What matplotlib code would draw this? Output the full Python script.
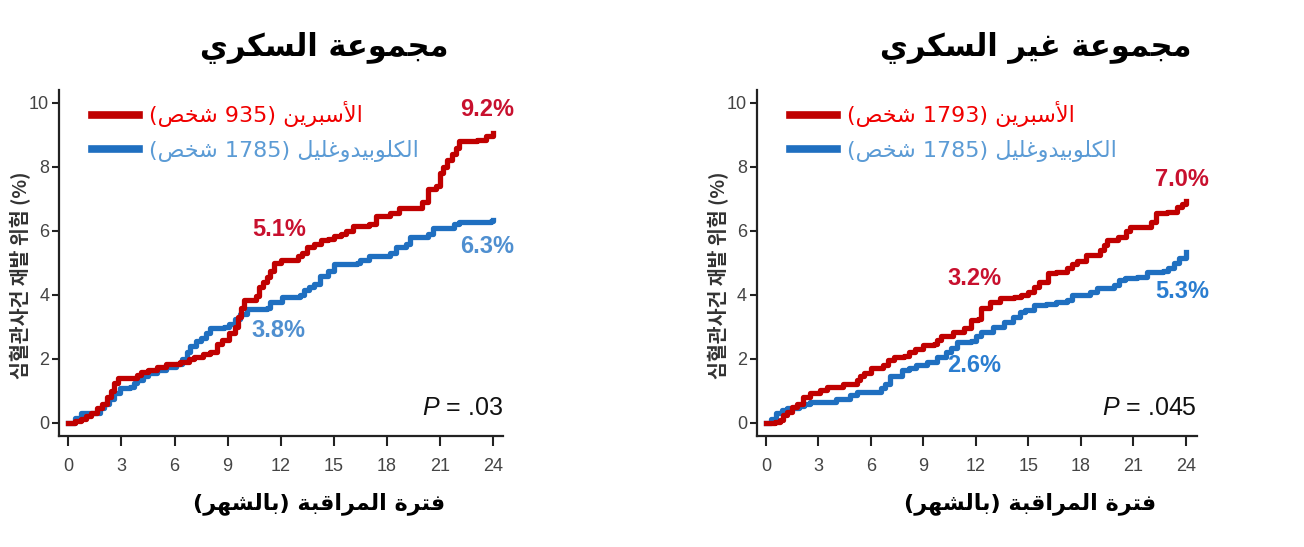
import re
import matplotlib
matplotlib.use('Agg')
import matplotlib.pyplot as plt
from matplotlib.lines import Line2D

# ---- data (months, cumulative %) ----
months_ticks = [0, 3, 6, 9, 12, 15, 18, 21, 24]
risk_ticks = [0, 2, 4, 6, 8, 10]

dm_asp_t = [0.0, 0.4, 0.7, 1.0, 1.3, 1.6, 1.9, 2.2, 2.4, 2.6, 2.8, 3.9, 4.1, 4.5, 5.0, 5.5, 6.3, 6.8,
            7.1, 7.6, 8.0, 8.4, 8.7, 9.1, 9.4, 9.6, 9.75, 9.9, 10.6, 10.8, 11.0, 11.2, 11.4, 11.6,
            12.0, 13.0, 13.2, 13.5, 13.9, 14.3, 14.7, 15.0, 15.4, 15.7, 16.1, 17.0, 17.4, 18.2,
            18.7, 19.7, 20.0, 20.3, 20.8, 21.0, 21.2, 21.4, 21.7, 21.9, 22.1, 23.1, 23.6, 24.0]
dm_asp_v = [0.0, 0.05, 0.12, 0.2, 0.3, 0.45, 0.6, 0.8, 1.0, 1.25, 1.4, 1.5, 1.6, 1.65, 1.75, 1.85,
            1.9, 2.0, 2.05, 2.15, 2.2, 2.45, 2.6, 2.8, 3.0, 3.3, 3.6, 3.85, 3.95, 4.25, 4.4, 4.55,
            4.75, 5.0, 5.1, 5.2, 5.3, 5.5, 5.6, 5.7, 5.75, 5.85, 5.9, 6.0, 6.15, 6.2, 6.45, 6.55,
            6.7, 6.7, 6.9, 7.3, 7.4, 7.8, 8.0, 8.2, 8.4, 8.6, 8.8, 8.85, 8.95, 9.05]

dm_clo_t = [0.0, 0.35, 0.7, 1.6, 1.8, 2.0, 2.3, 2.6, 2.9, 3.5, 3.7, 3.9, 4.2, 4.5, 5.0, 5.5, 6.1,
            6.4, 6.7, 6.9, 7.2, 7.5, 7.8, 8.0, 8.8, 9.1, 9.4, 9.7, 10.1, 11.2, 11.4, 12.1, 13.1,
            13.3, 13.6, 13.9, 14.2, 14.7, 15.0, 16.3, 16.5, 17.0, 18.2, 18.5, 19.1, 19.3, 20.3,
            20.6, 21.8, 22.1, 23.9, 24.0]
dm_clo_v = [0.0, 0.15, 0.3, 0.32, 0.45, 0.6, 0.75, 0.92, 1.1, 1.12, 1.25, 1.35, 1.45, 1.55, 1.65,
            1.75, 1.85, 2.0, 2.2, 2.4, 2.55, 2.65, 2.8, 2.95, 3.0, 3.1, 3.25, 3.4, 3.57, 3.6, 3.78,
            3.92, 4.0, 4.15, 4.25, 4.35, 4.6, 4.75, 4.97, 5.0, 5.08, 5.2, 5.3, 5.5, 5.6, 5.8, 5.9,
            6.1, 6.22, 6.28, 6.3, 6.33]

nodm_asp_t = [0.0, 0.5, 0.8, 1.0, 1.2, 1.5, 1.8, 2.1, 2.5, 3.1, 3.5, 4.0, 4.4, 5.2, 5.4, 5.6, 6.0,
              6.7, 7.0, 7.3, 7.9, 8.2, 8.5, 9.0, 9.6, 9.8, 10.0, 10.7, 11.3, 11.7, 12.1, 12.3, 12.8,
              13.4, 14.2, 14.6, 15.0, 15.3, 15.6, 16.1, 16.6, 17.2, 17.5, 17.8, 18.3, 19.1, 19.3,
              19.5, 20.1, 20.6, 20.8, 21.6, 22.0, 22.3, 22.9, 23.5, 23.8, 24.0]
nodm_asp_v = [0.0, 0.03, 0.1, 0.25, 0.35, 0.5, 0.6, 0.8, 0.92, 1.02, 1.12, 1.13, 1.22, 1.33, 1.45,
              1.55, 1.7, 1.8, 1.95, 2.05, 2.1, 2.2, 2.32, 2.43, 2.48, 2.6, 2.7, 2.84, 2.95, 3.2,
              3.25, 3.6, 3.78, 3.9, 3.92, 4.0, 4.1, 4.25, 4.4, 4.67, 4.72, 4.83, 4.95, 5.05, 5.24,
              5.4, 5.55, 5.7, 5.8, 6.0, 6.12, 6.13, 6.28, 6.55, 6.6, 6.75, 6.85, 6.92]

nodm_clo_t = [0.0, 0.3, 0.6, 0.9, 1.2, 1.9, 2.2, 2.5, 3.5, 4.0, 4.8, 5.2, 6.3, 6.6, 6.8, 7.1, 7.8,
              8.2, 8.6, 9.2, 9.8, 10.3, 10.6, 10.9, 11.7, 12.0, 12.3, 13.0, 13.6, 14.1, 14.5, 14.8,
              15.3, 16.0, 16.6, 17.2, 17.5, 18.5, 18.9, 19.9, 20.2, 20.5, 21.2, 21.8, 22.7, 23.0,
              23.3, 23.6, 24.0]
nodm_clo_v = [0.0, 0.12, 0.3, 0.4, 0.47, 0.52, 0.6, 0.66, 0.66, 0.76, 0.86, 0.97, 0.98, 1.1, 1.2,
              1.45, 1.65, 1.72, 1.8, 1.9, 2.06, 2.22, 2.35, 2.53, 2.55, 2.7, 2.85, 3.0, 3.15, 3.3,
              3.45, 3.52, 3.68, 3.72, 3.78, 3.84, 4.0, 4.1, 4.2, 4.3, 4.45, 4.52, 4.57, 4.72, 4.73,
              4.85, 5.0, 5.15, 5.34]

titles = ['مجموعة السكري', 'مجموعة غير السكري']
asp_labels = ['الأسبرين (935 شخص)', 'الأسبرين (1793 شخص)']
clo_labels = ['الكلوبيدوغليل (1785 شخص)', 'الكلوبيدوغليل (1785 شخص)']
pvals = ['.03', '.045']
# (text, x, y) for the % callouts
asp_marks = [[('9.2%', 23.65, 9.78), ('5.1%', 11.9, 6.03)],
             [('7.0%', 23.8, 7.6), ('3.2%', 11.9, 4.5)]]
clo_marks = [[('6.3%', 23.65, 5.5), ('3.8%', 11.9, 2.9)],
             [('5.3%', 23.8, 4.1), ('2.6%', 11.9, 1.8)]]
xlabel = 'فترة المراقبة (بالشهر)'
ylabel = '심혈관사건 재발 위험 (%)'

# ---- minimal arabic shaping (matplotlib 3.10 does no shaping / bidi) ----
FORMS = {  # isolated, final, initial, medial
    'ا': ('\uFE8D', '\uFE8E', None, None), 'أ': ('\uFE83', '\uFE84', None, None),
    'ب': ('\uFE8F', '\uFE90', '\uFE91', '\uFE92'), 'ة': ('\uFE93', '\uFE94', None, None),
    'ت': ('\uFE95', '\uFE96', '\uFE97', '\uFE98'), 'ج': ('\uFE9D', '\uFE9E', '\uFE9F', '\uFEA0'),
    'خ': ('\uFEA5', '\uFEA6', '\uFEA7', '\uFEA8'), 'د': ('\uFEA9', '\uFEAA', None, None),
    'ر': ('\uFEAD', '\uFEAE', None, None), 'س': ('\uFEB1', '\uFEB2', '\uFEB3', '\uFEB4'),
    'ش': ('\uFEB5', '\uFEB6', '\uFEB7', '\uFEB8'), 'ص': ('\uFEB9', '\uFEBA', '\uFEBB', '\uFEBC'),
    'ع': ('\uFEC9', '\uFECA', '\uFECB', '\uFECC'), 'غ': ('\uFECD', '\uFECE', '\uFECF', '\uFED0'),
    'ف': ('\uFED1', '\uFED2', '\uFED3', '\uFED4'), 'ق': ('\uFED5', '\uFED6', '\uFED7', '\uFED8'),
    'ك': ('\uFED9', '\uFEDA', '\uFEDB', '\uFEDC'), 'ل': ('\uFEDD', '\uFEDE', '\uFEDF', '\uFEE0'),
    'م': ('\uFEE1', '\uFEE2', '\uFEE3', '\uFEE4'), 'ن': ('\uFEE5', '\uFEE6', '\uFEE7', '\uFEE8'),
    'ه': ('\uFEE9', '\uFEEA', '\uFEEB', '\uFEEC'), 'و': ('\uFEED', '\uFEEE', None, None),
    'ي': ('\uFEF1', '\uFEF2', '\uFEF3', '\uFEF4'),
}
LAMALEF = {'ا': ('\uFEFB', '\uFEFC'), 'أ': ('\uFEF7', '\uFEF8')}


def shape(s):
    out = []
    i = 0
    while i < len(s):
        ch = s[i]
        if ch not in FORMS:
            out.append(ch)
            i += 1
            continue
        prev = s[i-1] if i > 0 else ''
        p = prev in FORMS and FORMS[prev][2] is not None
        if ch == 'ل' and i+1 < len(s) and s[i+1] in LAMALEF:
            out.append(LAMALEF[s[i+1]][1 if p else 0])
            i += 2
            continue
        nxt = s[i+1] if i+1 < len(s) else ''
        q = FORMS[ch][2] is not None and nxt in FORMS
        iso, fin, ini, med = FORMS[ch]
        out.append(med if (p and q) else fin if p else ini if q else iso)
        i += 1
    return ''.join(out)


def rtl(s):
    runs = re.findall(r'[0-9]+|[^0-9]+', shape(s))[::-1]
    mirror = {'(': ')', ')': '('}
    res = []
    for r in runs:
        if r[0].isdigit():
            res.append(r)
        else:
            res.append(''.join(mirror.get(c, c) for c in r[::-1]))
    return ''.join(res)


AR = ['DejaVu Sans']
NUM = ['Liberation Sans', 'DejaVu Sans']
RED, BLUE = '#C00000', '#1F6FC0'

fig = plt.figure(figsize=(13.04, 5.47), dpi=100)
plt.rcParams['mathtext.fontset'] = 'custom'
plt.rcParams['mathtext.it'] = 'Liberation Sans:italic'
plt.rcParams['mathtext.rm'] = 'Liberation Sans'

panels = [
    dict(pos=[0.0452, 0.2029, 0.3405, 0.6326], xl=(-0.53, 24.56), asp=(dm_asp_t, dm_asp_v),
         clo=(dm_clo_t, dm_clo_v), tx=0.249, blue_txt='#4F8FD0'),
    dict(pos=[0.5803, 0.2029, 0.3374, 0.6326], xl=(-0.53, 24.62), asp=(nodm_asp_t, nodm_asp_v),
         clo=(nodm_clo_t, nodm_clo_v), tx=0.794, blue_txt='#2A7DD0'),
]

for k, pn in enumerate(panels):
    ax = fig.add_axes(pn['pos'])
    ax.step(pn['clo'][0], pn['clo'][1], where='post', color=BLUE, lw=3.8, solid_joinstyle='round')
    ax.step(pn['asp'][0], pn['asp'][1], where='post', color=RED, lw=3.8, solid_joinstyle='round')
    ax.set_xlim(*pn['xl'])
    ax.set_ylim(-0.41, 10.4)
    ax.set_xticks(months_ticks)
    ax.set_yticks(risk_ticks)
    for s in ['top', 'right']:
        ax.spines[s].set_visible(False)
    for s in ['left', 'bottom']:
        ax.spines[s].set_linewidth(1.6)
        ax.spines[s].set_color('#222222')
    ax.tick_params(axis='x', length=7, width=1.5, colors='#222222', labelcolor='#444444', pad=9)
    ax.tick_params(axis='y', length=5, width=1.5, colors='#222222', labelcolor='#444444', pad=2)
    for lab in ax.get_xticklabels() + ax.get_yticklabels():
        lab.set_family(NUM)
        lab.set_fontsize(13)

    handles = [Line2D([], [], color=RED, lw=5.5), Line2D([], [], color=BLUE, lw=5.5)]
    leg = ax.legend(handles, [rtl(asp_labels[k]), rtl(clo_labels[k])], loc='upper left',
                    bbox_to_anchor=(0.03, 1.025), frameon=False, handlelength=2.1,
                    handletextpad=0.45, labelspacing=0.55, prop={'family': AR, 'size': 16})
    leg.get_texts()[0].set_color('#F00000')
    leg.get_texts()[1].set_color('#5B9BD5')

    for txt, x, y in asp_marks[k]:
        ax.text(x, y, txt, color='#C8102E', fontsize=17, fontweight='bold', family=NUM,
                ha='center', va='center')
    for txt, x, y in clo_marks[k]:
        ax.text(x, y, txt, color=pn['blue_txt'], fontsize=17, fontweight='bold', family=NUM,
                ha='center', va='center')
    ax.text(1.0, 0.08, '$P$ = ' + pvals[k], transform=ax.transAxes, ha='right', va='center',
            fontsize=18, family=NUM, color='#111111')

    ax.set_ylabel(ylabel, family=['Noto Sans CJK KR', 'DejaVu Sans'], fontsize=14,
                  fontweight='bold', color='#333333')
    ax.yaxis.set_label_coords(-0.062, 0.465)

    fig.text(pn['tx'], 0.912, rtl(titles[k]), ha='center', va='center', family=AR,
             fontsize=22, fontweight='bold')
    fig.text(pn['tx'] - 0.004, 0.08, rtl(xlabel), ha='center', va='center', family=AR,
             fontsize=16, fontweight='bold')

fig.savefig('out.png', dpi=100)
